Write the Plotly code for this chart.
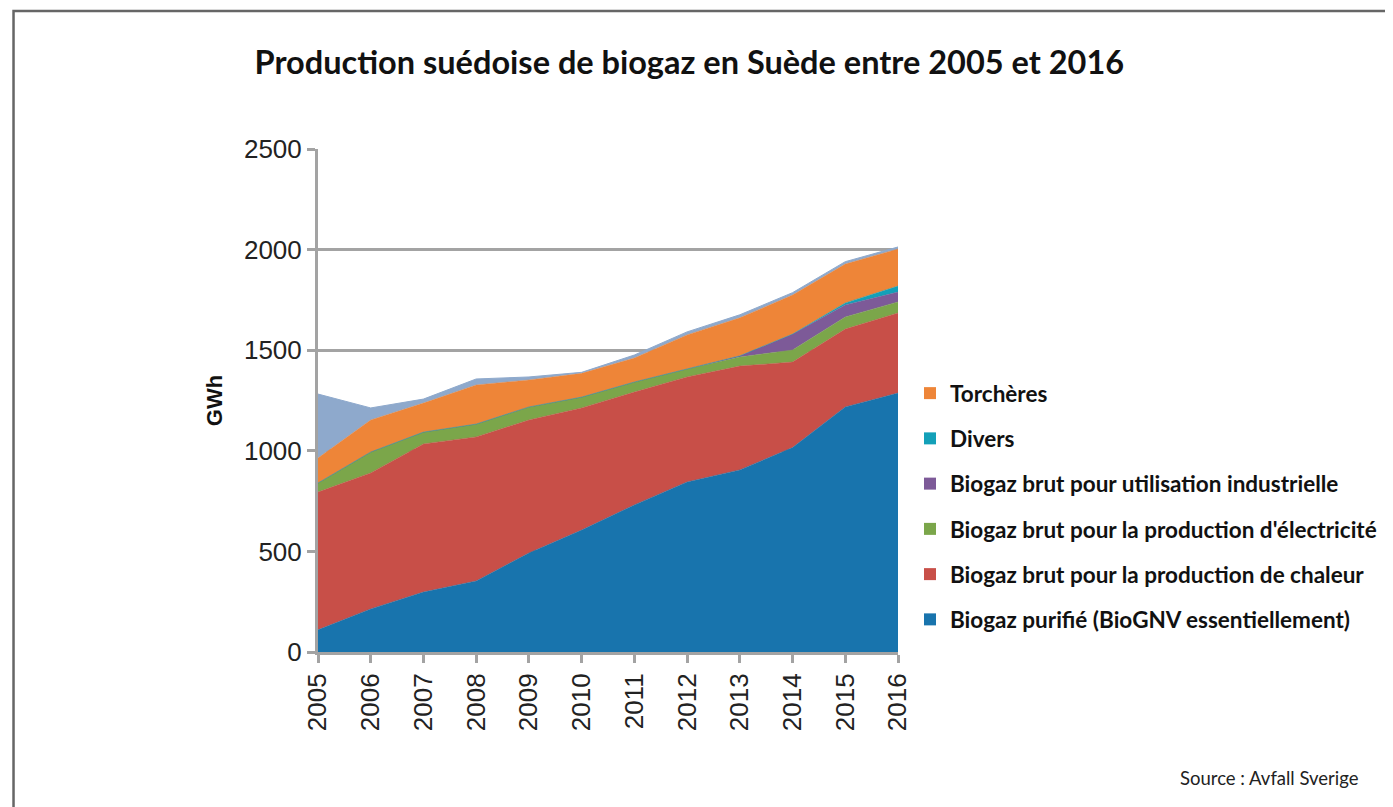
import plotly.graph_objects as go

years = [2005, 2006, 2007, 2008, 2009, 2010, 2011, 2012, 2013, 2014, 2015, 2016]

purifie = [110, 214, 298, 353, 492, 606, 731, 845, 905, 1016, 1218, 1287]
chaleur = [685, 676, 736, 716, 661, 607, 561, 522, 516, 425, 387, 398]
electricite = [45, 104, 59, 64, 65, 54, 50, 39, 45, 60, 60, 55]
industrielle = [0, 0, 0, 0, 0, 0, 0, 0, 6, 79, 60, 49]
divers = [0, 0, 0, 0, 0, 0, 0, 0, 0, 0, 10, 30]
torcheres = [124, 159, 144, 194, 134, 118, 119, 170, 189, 194, 193, 184]
non_specifie = [318, 60, 20, 30, 15, 5, 15, 15, 15, 12, 12, 10]

series = [
    ("Biogaz purifié (BioGNV essentiellement)", purifie, "#1874AD"),
    ("Biogaz brut pour la production de chaleur", chaleur, "#C84F48"),
    ("Biogaz brut pour la production d'électricité", electricite, "#7BA64A"),
    ("Biogaz brut pour utilisation industrielle", industrielle, "#7D5A98"),
    ("Divers", divers, "#13A0B8"),
    ("Torchères", torcheres, "#EE8538"),
]

fig = go.Figure()

for name, vals, col in series:
    fig.add_trace(go.Scatter(
        x=years, y=vals, name=name, stackgroup="one", mode="lines",
        line=dict(width=0.5, color=col), fillcolor=col, showlegend=False,
        hoverinfo="x+y+name"))

fig.add_trace(go.Scatter(
    x=years, y=non_specifie, name="Non spécifié", stackgroup="one", mode="lines",
    line=dict(width=1, color="#8EA9CC"), fillcolor="#8EA9CC", showlegend=False))

# legend entries (square markers)
for rank, (name, vals, col) in enumerate(reversed(series)):
    fig.add_trace(go.Scatter(
        x=[None], y=[None], mode="markers", name=name,
        marker=dict(symbol="square", size=13, color=col),
        legendgroup=name, legendrank=rank + 1, showlegend=True))

# page body has an 8px margin: shift everything up/left by it
OFF = 8
W, H = 1393 - OFF, 807 - OFF
L, R, T, B = 318 - OFF, 899 - OFF, 149 - OFF, 652 - OFF
pw, ph = R - L, B - T

def px(x):
    return (x - OFF - L) / pw

def py(y):
    return (B - (y - OFF)) / ph

fig.update_layout(
    width=W, height=H,
    margin=dict(l=L, r=W - R, t=T, b=H - B),
    paper_bgcolor="white", plot_bgcolor="white",
    title=dict(
        text="<b>Production suédoise de biogaz en Suède entre 2005 et 2016</b>",
        font=dict(family="Lato, Open Sans, sans-serif", size=32.5, color="#111111"),
        xref="paper", x=px(690), xanchor="center",
        yref="container", y=1 - (63 - OFF) / H, yanchor="middle"),
    showlegend=True,
    legend=dict(
        x=px(910), xanchor="left", y=py(372), yanchor="top",
        font=dict(family="Lato, Open Sans, sans-serif", size=22.5, color="#111111", weight="bold"),
        traceorder="grouped", tracegroupgap=13, bgcolor="rgba(0,0,0,0)",
        itemsizing="constant"),
    xaxis=dict(
        range=[2005, 2016], tickmode="array", tickvals=years,
        ticktext=[str(y) for y in years], tickangle=-90,
        showgrid=False, zeroline=False,
        showline=True, linecolor="#A3A3A3", linewidth=3,
        ticks="outside", ticklen=8, tickwidth=3, tickcolor="#A3A3A3",
        tickfont=dict(family="Liberation Sans, Arial, sans-serif", size=26, color="#222222")),
    yaxis=dict(
        range=[0, 2500], tickmode="array", tickvals=[0, 500, 1000, 1500, 2000, 2500],
        showgrid=True, gridcolor="#A3A3A3", gridwidth=3, zeroline=False,
        showline=True, linecolor="#A3A3A3", linewidth=3,
        ticks="outside", ticklen=8, tickwidth=3, tickcolor="#A3A3A3",
        tickfont=dict(family="Liberation Sans, Arial, sans-serif", size=26, color="#222222"),
        title=dict(text="<b>GWh</b>", standoff=16,
                   font=dict(family="Liberation Sans, Arial, sans-serif", size=22, color="#111111"))),
    shapes=[dict(type="rect", xref="paper", yref="paper",
                 x0=px(13), x1=px(1420), y0=py(830), y1=py(11),
                 line=dict(color="#666666", width=2.5), fillcolor="rgba(0,0,0,0)", layer="above")],
    annotations=[dict(
        text="Source : Avfall Sverige", xref="paper", yref="paper",
        x=px(1363), xanchor="right", y=py(778), yanchor="middle", showarrow=False,
        font=dict(family="Lato, Open Sans, sans-serif", size=18.5, color="#222222"))],
)

fig.write_html("out.html")
